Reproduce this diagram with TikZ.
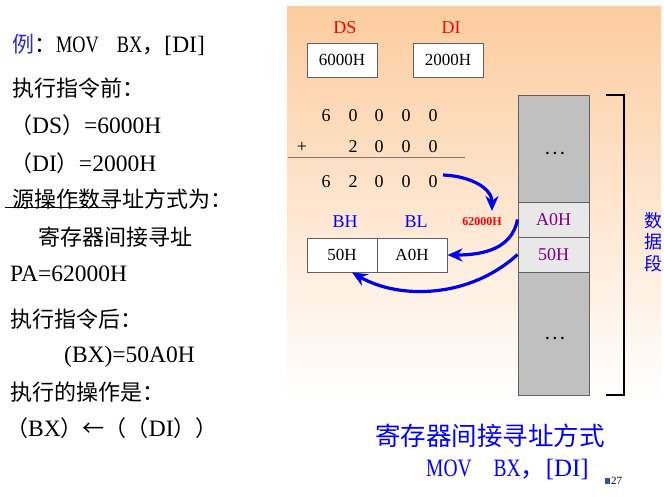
\documentclass[tikz,border=0pt]{standalone}
\usepackage{fontspec}
\setmainfont{Liberation Serif}
\newfontfamily\cjk{Noto Sans CJK SC}
\newfontfamily\narrow[FakeStretch=0.78]{Liberation Serif}
\newcommand\myzh[1]{{\cjk\fontsize{22}{26}\selectfont #1}}
\usetikzlibrary{arrows.meta}
\definecolor{panelor}{RGB}{252,204,158}
\definecolor{exblue}{RGB}{45,45,205}
\definecolor{pureblue}{RGB}{0,0,255}
\definecolor{flowblue}{RGB}{0,0,240}
\definecolor{mempurple}{RGB}{128,0,128}
\definecolor{memgray}{RGB}{192,192,192}
\definecolor{celgray}{RGB}{232,232,232}
\definecolor{boxline}{RGB}{96,96,96}
\definecolor{sumline}{RGB}{130,120,110}
\definecolor{pgsq}{RGB}{47,85,151}
\begin{document}
\begin{tikzpicture}[x=1pt,y=-1pt,
  lt/.style={anchor=base west,inner sep=0pt,font=\fontsize{23.5}{26}\selectfont},
  regbox/.style={draw=boxline,line width=0.9pt,fill=white,minimum width=70pt,minimum height=34pt,inner sep=0pt,font=\fontsize{17}{20}\selectfont},
  reglabel/.style={inner sep=0pt,font=\fontsize{18}{20}\selectfont},
  digit/.style={inner sep=0pt,font=\fontsize{18}{20}\selectfont},
  memcell/.style={draw=boxline,line width=0.9pt,minimum width=71pt,inner sep=0pt,font=\fontsize{18}{20}\selectfont,text=mempurple},
  flow/.style={draw=flowblue,line width=3.2pt,-{Stealth[length=15pt,width=13pt]}},
]
\useasboundingbox (0,0) rectangle (664,496);
\fill[white] (0,0) rectangle (664,496);
\shade[top color=panelor,bottom color=white] (287,6) rectangle (661,400);

% left text
\node[lt] (t1) at (12,52) {\myzh{\color{exblue}例}\myzh{：}{\narrow MOV\hspace{18pt}BX}\myzh{，}[DI]};
\node[lt] (t2) at (12,96) {\myzh{执行指令前：}};
\node[lt] (t3) at (10,133) {\myzh{（}DS\myzh{）}=6000H};
\node[lt] (t4) at (10,171) {\myzh{（}DI\myzh{）}=2000H};
\node[lt] (t5) at (12,207) {\myzh{源操作数寻址方式为：}};
\draw[line width=0.9pt] (5,207) -- (110,207);
\node[lt] (t6) at (38,245) {\myzh{寄存器间接寻址}};
\node[lt] (t7) at (10,281) {PA=62000H};
\node[lt] (t8) at (10,327) {\myzh{执行指令后：}};
\node[lt] (t9) at (64,362) {(BX)=50A0H};
\node[lt] (t10) at (10,400) {\myzh{执行的操作是：}};
\node[lt] (t11) at (6,436) {\myzh{（}BX\myzh{）←（（}DI\myzh{））}};

% registers
\node[reglabel,text=red] (dsl) at (345,28) {DS};
\node[reglabel,text=red] (dil) at (451,28) {DI};
\node[regbox] (ds) at (342,60) {6000H};
\node[regbox] (di) at (448,60) {2000H};

% sum
\foreach \d/\x/\n in {6/326/a,0/353/b,0/379/c,0/406/d,0/433/e}
  \node[digit] (r1\n) at (\x,116) {\d};
\node[digit] (plus) at (302,147) {+};
\foreach \d/\x/\n in {2/353/b,0/379/c,0/406/d,0/433/e}
  \node[digit] (r2\n) at (\x,147) {\d};
\draw[draw=sumline,line width=1pt] (288,157) -- (465,157);
\foreach \d/\x/\n in {6/326/a,2/353/b,0/379/c,0/406/d,0/433/e}
  \node[digit] (r3\n) at (\x,182) {\d};

\node[inner sep=0pt,text=red,font=\fontsize{12}{14}\selectfont\bfseries] (pa) at (482,222) {62000H};

% BX register
\node[reglabel,text=pureblue] (bhl) at (345,222) {BH};
\node[reglabel,text=pureblue] (bll) at (416,222) {BL};
\node[regbox] (bh) at (342,255) {50H};
\node[regbox] (bl) at (412,255) {A0H};

% memory
\node[memcell,fill=memgray,minimum height=107pt] (mtop) at (553.5,148.5) {};
\node[memcell,fill=celgray,minimum height=35pt] (ma) at (553.5,219.5) {A0H};
\node[memcell,fill=celgray,minimum height=35pt] (m5) at (553.5,254.5) {50H};
\node[memcell,fill=memgray,minimum height=123pt] (mbot) at (553.5,333.5) {};
\node[inner sep=0pt,font=\fontsize{15}{16}\selectfont\bfseries] (dots1) at (555,153) {.\ .\ .};
\node[inner sep=0pt,font=\fontsize{15}{16}\selectfont\bfseries] (dots2) at (555,338) {.\ .\ .};

\draw[line width=2pt] (606,95) -- (624,95) -- (624,395) -- (606,395);
\node[inner sep=0pt,text=pureblue,font={\cjk\fontsize{18}{21.5}\selectfont},align=center] (seg) at (653,242) {数\\据\\段};

% arrows
\coordinate (a1s) at (443,175);
\coordinate (a1t) at (492,211);
\draw[flow] (a1s) .. controls (470,176) and (492,188) .. (a1t);
\draw[flow] (ma.west) .. controls (512,248) and (485,255) .. (bl.east);
\draw[flow] (m5.west) .. controls (470,298) and (400,300) .. ([xshift=10pt]bh.south);

% caption
\node[anchor=base west,inner sep=0pt,text=pureblue,font={\cjk\fontsize{25.5}{28}\selectfont}] (cap1) at (375,445) {寄存器间接寻址方式};
\node[anchor=base west,inner sep=0pt,text=pureblue,font=\fontsize{25}{28}\selectfont] (cap2) at (426,476) {{\narrow MOV\hspace{22pt}BX}{\cjk ，}[DI]};
\fill[pgsq] (605,478) rectangle (610,484);
\node[anchor=west,inner sep=0pt,font=\fontsize{11}{12}\selectfont] (pg) at (611,481) {27};
\end{tikzpicture}
\end{document}
